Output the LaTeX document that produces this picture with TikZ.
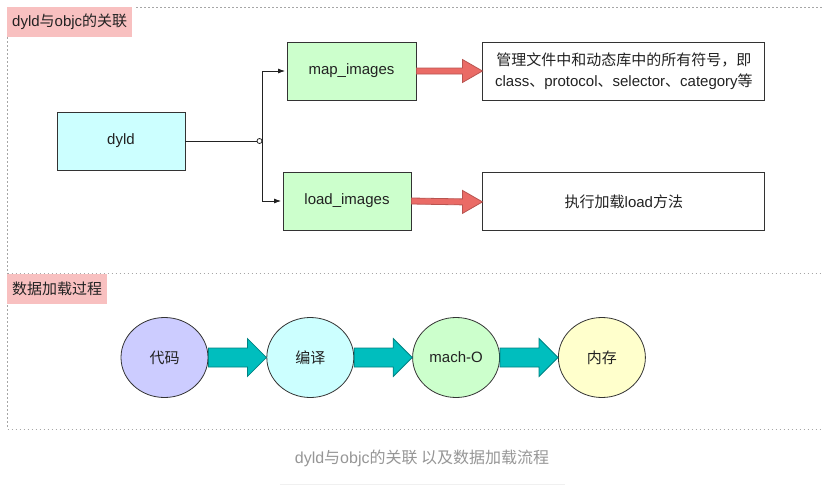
\documentclass[tikz,border=0pt]{standalone}
\usepackage{fontspec}
\setmainfont{Liberation Sans}
\newfontfamily\zhfont{Noto Sans CJK SC}
\usepackage{xcolor}
\usepackage{tikz}
\usetikzlibrary{positioning,arrows.meta,calc,shapes.geometric}
\definecolor{inkblack}{RGB}{34,34,34}
\definecolor{edgegray}{RGB}{51,51,51}
\definecolor{tagpink}{RGB}{248,192,192}
\definecolor{dyldcyan}{RGB}{204,255,255}
\definecolor{imggreen}{RGB}{204,255,204}
\definecolor{codepurple}{RGB}{204,204,255}
\definecolor{compcyan}{RGB}{204,255,255}
\definecolor{machgreen}{RGB}{204,255,204}
\definecolor{memyellow}{RGB}{255,255,204}
\definecolor{arrred}{RGB}{234,107,102}
\definecolor{arrredline}{RGB}{184,84,80}
\definecolor{arrteal}{RGB}{0,190,190}
\definecolor{arrtealline}{RGB}{0,130,130}
\definecolor{capgray}{RGB}{150,150,150}
\newcommand{\zh}[1]{{\zhfont #1}}
\newcommand{\fatarrow}[6]{%
  \draw[#1] ($(#2.east)+(0,-#4)$) -- ($(#3.west)+(-#5,-#4)$) -- ($(#3.west)+(-#5,-#6)$) -- (#3.west)
    -- ($(#3.west)+(-#5,#6)$) -- ($(#3.west)+(-#5,#4)$) -- ($(#2.east)+(0,#4)$) -- cycle;}
\tikzset{
  box/.style    ={draw=edgegray, line width=0.9pt, minimum width=128pt, minimum height=58pt,
                  inner sep=0pt, align=center, text=inkblack, font=\fontsize{15}{21.5}\selectfont},
  tag/.style    ={fill=tagpink, anchor=north west, minimum height=30pt, inner xsep=5pt,
                  inner ysep=0pt, text=inkblack, font=\fontsize{15}{18}\selectfont},
  stage/.style  ={ellipse, draw=edgegray, line width=0.8pt, minimum width=87pt, minimum height=80pt,
                  inner sep=0pt, text=inkblack, font=\fontsize{15}{18}\selectfont},
  conn/.style   ={draw=inkblack, line width=0.8pt},
  tip/.style    ={-{Latex[length=7pt,width=5pt]}, shorten >=1.5pt},
  jdot/.style   ={circle, draw=inkblack, fill=white, line width=0.8pt, minimum size=5pt, inner sep=0pt},
  redarr/.style ={fill=arrred, draw=arrredline, line width=0.8pt},
  tealarr/.style={fill=arrteal, draw=arrtealline, line width=0.8pt},
  frame/.style  ={draw=gray!70, line width=0.8pt, dash pattern=on 1.5pt off 2.5pt},
}
\begin{document}
\begin{tikzpicture}[x=1pt,y=-1pt]
\useasboundingbox (0,0) rectangle (823,490);

\draw[frame] (7.5,37) -- (7.5,429) -- (823,429);
\draw[frame] (136,7.5) -- (823,7.5);
\draw[frame] (7.5,273) -- (823,273);

\node[tag] (title) at (7,7) {dyld\zh{与}objc\zh{的关联}};
\node[tag] (phase) at (7,274) {\zh{数据加载过程}};

\node[box,fill=dyldcyan] (dyld) at (121,141) {dyld};
\node[box,fill=imggreen,minimum width=129pt] (mapimg) at (351.5,71) {map\_images};
\node[box,fill=imggreen] (loadimg) at (347,201) {load\_images};
\node[box,fill=white,minimum width=282pt,right=66pt of mapimg] (symbols)
  {\zh{管理文件中和动态库中的所有符号，即}\\ class\zh{、}protocol\zh{、}selector\zh{、}category\zh{等}};
\node[box,fill=white,minimum width=282pt,below=72pt of symbols] (loadfn) {\zh{执行加载}load\zh{方法}};
\node[jdot] (jn) at (259.5,141) {};

\draw[conn] (dyld) -- (jn);
\draw[conn,tip] (jn.east) |- (mapimg);
\draw[conn,tip] (jn.east) |- (loadimg);
\fatarrow{redarr}{mapimg}{symbols}{3}{20}{11.5}
\fatarrow{redarr}{loadimg}{loadfn}{3}{20}{11.5}

\node[stage,fill=codepurple] (code) at (164.5,357.5) {\zh{代码}};
\node[stage,fill=compcyan,right=58pt of code] (compile) {\zh{编译}};
\node[stage,fill=machgreen,right=58pt of compile] (macho) {mach-O};
\node[stage,fill=memyellow,right=58pt of macho] (memory) {\zh{内存}};
\fatarrow{tealarr}{code}{compile}{9.5}{19}{19}
\fatarrow{tealarr}{compile}{macho}{9.5}{19}{19}
\fatarrow{tealarr}{macho}{memory}{9.5}{19}{19}

\node[text=capgray,font=\fontsize{16}{18}\selectfont] (cap) at (422,458)
  {dyld\zh{与}objc\zh{的关联 以及数据加载流程}};
\draw[draw=gray!12,line width=0.8pt] ($(cap)+(-142,26)$) -- ($(cap)+(143,26)$);
\end{tikzpicture}
\end{document}
